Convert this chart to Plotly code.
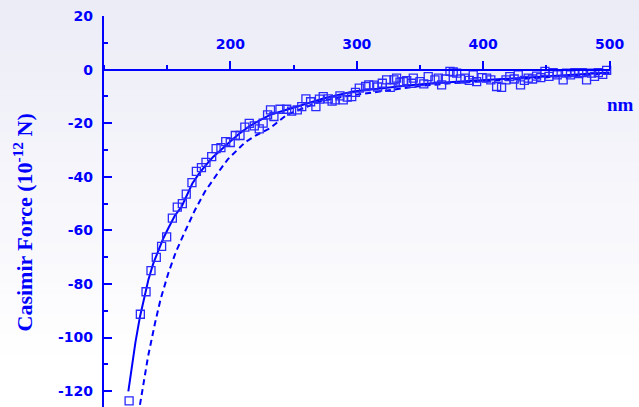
import plotly.graph_objects as go

# ---------------- data ----------------
exp_x = [120.0, 128.9, 133.4, 137.3, 141.5, 145.7, 149.7, 154.2, 158.1, 162.1,
         165.2, 169.7, 173.2, 177.2, 180.8, 185.3, 188.8, 192.6, 196.4, 200.0,
         204.0, 207.7, 211.5, 215.0, 219.0, 222.9, 226.0, 229.5, 231.8, 234.5,
         239.3, 244.6, 248.5, 253.0, 256.5, 259.8, 263.5, 267.7, 270.5, 273.5,
         277.5, 280.5, 282.8, 286.7, 289.3, 292.5, 296.0, 299.0, 302.0, 307.0,
         309.5, 313.6, 316.5, 320.2, 323.6, 326.5, 329.4, 331.5, 334.2, 336.8,
         339.5, 343.4, 344.7, 350.0, 353.0, 356.5, 361.8, 364.5, 367.1, 370.0,
         373.7, 376.3, 379.0, 382.0, 385.5, 389.0, 392.1, 394.8, 399.0, 402.7,
         406.0, 410.6, 414.5, 418.0, 421.0, 424.5, 427.7, 429.5, 432.5, 435.6,
         439.0, 442.2, 445.5, 448.8, 452.0, 455.3, 458.5, 463.2, 465.9, 469.0,
         472.5, 475.5, 478.3, 481.7, 485.7, 488.0, 491.0, 494.5, 497.6, 500.5]
exp_y = [-123.6, -91.3, -82.9, -75.0, -70.1, -66.0, -62.4, -55.4, -51.3, -50.0,
         -46.5, -42.2, -38.0, -36.6, -34.6, -32.5, -29.5, -29.1, -26.9, -27.2,
         -24.6, -24.6, -21.5, -20.1, -21.0, -22.1, -20.0, -16.9, -15.0, -17.5,
         -14.8, -14.8, -15.5, -15.0, -13.8, -10.9, -12.0, -13.8, -11.0, -10.1,
         -10.9, -11.8, -11.3, -9.8, -11.3, -10.3, -10.1, -8.5, -6.9, -6.3,
         -5.7, -5.8, -6.5, -5.1, -3.8, -6.6, -3.8, -3.2, -4.7, -4.5,
         -4.1, -5.1, -3.2, -4.5, -5.3, -2.6, -3.8, -3.2, -5.7, -3.5,
         -0.7, -0.9, -1.3, -3.5, -3.2, -4.0, -2.0, -4.5, -3.0, -3.2,
         -3.8, -6.3, -6.6, -3.8, -2.6, -3.5, -2.0, -5.7, -4.0, -3.2,
         -3.5, -2.4, -3.0, -0.7, -2.5, -1.1, -2.0, -3.8, -1.3, -2.0,
         -1.1, -1.5, -1.1, -3.8, -1.3, -2.5, -1.1, -1.8, -0.3, -0.1]

fit_x = [119.4, 122, 125, 128.6, 132, 135.2, 139, 143.1, 147, 151, 156, 161.6,
         166, 170, 175, 180, 186.6, 193, 200, 207.7, 214, 220, 231.4, 244.5,
         260, 275, 297.2, 320, 340, 360, 380, 400, 420, 440, 460, 480, 500]
fit_y = [-120.1, -111.0, -101.8, -92.2, -84.5, -78.5, -72.5, -67.3, -63.0, -59.2,
         -54.6, -51.1, -46.5, -42.5, -39.0, -36.0, -32.5, -29.7, -26.8, -23.7,
         -21.5, -19.8, -16.9, -15.0, -12.7, -10.6, -8.2, -6.9, -5.9, -5.1,
         -4.5, -3.9, -3.3, -2.7, -2.1, -1.6, -1.1]

th_x = [128.6, 132, 135, 140.5, 145, 151, 157, 164.2, 172, 180, 186, 191.9,
        198, 205.1, 212, 220.9, 231.4, 244.6, 258, 270.8, 290, 313.1, 330,
        350, 375, 400, 425, 450, 475, 500]
th_y = [-125.1, -115, -107, -94.6, -85.5, -76.0, -68.0, -60.4, -52.5, -45.5,
        -41.3, -37.4, -33.5, -30.0, -27.0, -24.4, -21.9, -16.9, -14.3, -11.9,
        -10.0, -8.6, -7.3, -6.1, -5.1, -4.3, -3.5, -2.8, -2.1, -1.5]

y_ticks = [20, 0, -20, -40, -60, -80, -100, -120]
y_ticktext = ["20", "0", "-20", "-40", "-60", "-80", "-100", "-120"]
x_ticks = [200, 300, 400, 500]
x_ticktext = ["200", "300", "400", "500"]

# ---------------- layout geometry ----------------
W, H = 639, 407
BLUE = "#0000ff"
x_range = [100, 500]
y_range = [-125.9, 20]
x_dom = [103.8 / W, 609.7 / W]
y_dom = [0.0, (H - 16.0) / H]
zero_pos = y_dom[0] + (0 - y_range[0]) / (y_range[1] - y_range[0]) * (y_dom[1] - y_dom[0])

fig = go.Figure()
fig.add_trace(go.Scatter(x=th_x, y=th_y, mode="lines",
                         line=dict(color=BLUE, width=2, dash="6px,4px"),
                         cliponaxis=False, hoverinfo="skip"))
fig.add_trace(go.Scatter(x=fit_x, y=fit_y, mode="lines",
                         line=dict(color=BLUE, width=2),
                         cliponaxis=False, hoverinfo="skip"))
fig.add_trace(go.Scatter(x=exp_x, y=exp_y, mode="markers",
                         marker=dict(symbol="square-open", size=8,
                                     color="#2a2aff", line=dict(width=1.3, color="#2a2aff")),
                         cliponaxis=False))

# gradient background
shapes = []
N = 40
top = (236, 236, 247)
for i in range(N):
    t = i / (N - 1)
    c = tuple(int(round(top[k] + (255 - top[k]) * min(1.0, t * 1.1))) for k in range(3))
    shapes.append(dict(type="rect", xref="paper", yref="paper",
                       x0=0, x1=1, y0=1 - (i + 1) / N, y1=1 - i / N + 0.002,
                       fillcolor="rgb(%d,%d,%d)" % c, line=dict(width=0), layer="below"))

tickfont = dict(family="DejaVu Sans", size=14, color=BLUE, weight="bold")

fig.update_layout(
    width=W, height=H,
    margin=dict(l=0, r=0, t=0, b=0, pad=0),
    paper_bgcolor="white", plot_bgcolor="rgba(0,0,0,0)",
    showlegend=False,
    shapes=shapes,
    xaxis=dict(range=x_range, domain=x_dom, anchor="free", position=zero_pos,
               side="top", showgrid=False, zeroline=False, automargin=False,
               showline=True, linecolor=BLUE, linewidth=2,
               tickmode="array", tickvals=x_ticks, ticktext=x_ticktext,
               ticks="outside", ticklen=8, tickwidth=2, tickcolor=BLUE,
               ticklabelstandoff=6, tickfont=tickfont,
               minor=dict(tickmode="linear", tick0=0, dtick=50, ticks="outside",
                          ticklen=4, tickwidth=2, tickcolor=BLUE)),
    yaxis=dict(range=y_range, domain=y_dom, anchor="x",
               showgrid=False, zeroline=False, automargin=False,
               showline=True, linecolor=BLUE, linewidth=2,
               tickmode="array", tickvals=y_ticks, ticktext=y_ticktext,
               ticks="inside", ticklen=8, tickwidth=2, tickcolor=BLUE,
               ticklabelstandoff=6, tickfont=tickfont,
               minor=dict(tickmode="linear", tick0=0, dtick=10, ticks="inside",
                          ticklen=4, tickwidth=2, tickcolor=BLUE)),
    annotations=[
        dict(text="Casimir Force (10<sup>-12</sup> N)", xref="paper", yref="paper",
             x=22 / W, y=(H - 222.5) / H, textangle=-90, showarrow=False,
             xanchor="center", yanchor="middle",
             font=dict(family="Liberation Serif", size=22, color=BLUE, weight="bold")),
        dict(text="nm", xref="paper", yref="paper",
             x=620 / W, y=(H - 105) / H, showarrow=False,
             xanchor="center", yanchor="middle",
             font=dict(family="Liberation Serif", size=19, color=BLUE, weight="bold")),
    ],
)

fig.write_html("out.html",
               config={"displayModeBar": False},
               post_script="document.body.style.margin='0';document.body.style.overflow='hidden';")
